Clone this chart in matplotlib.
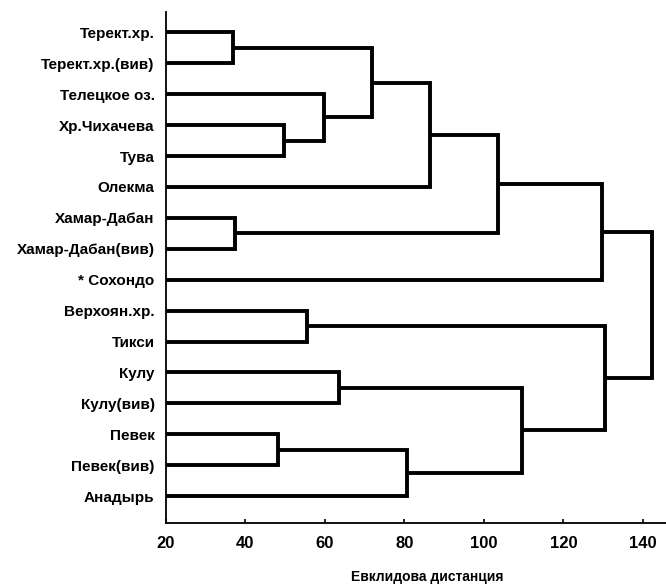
import matplotlib.pyplot as plt
import numpy as np

# листья дендрограммы (сверху вниз)
leaf_labels = ["Терект.хр.", "Терект.хр.(вив)", "Телецкое оз.", "Хр.Чихачева", "Тува",
               "Олекма", "Хамар-Дабан", "Хамар-Дабан(вив)", "* Сохондо",
               "Верхоян.хр.", "Тикси", "Кулу", "Кулу(вив)", "Певек", "Певек(вив)", "Анадырь"]

# объединения: (узел a, узел b, дистанция); новые узлы нумеруются с 16
merge_a = [0, 3, 2, 16, 19, 6, 20, 22, 9, 11, 13, 26, 25, 24, 23]
merge_b = [1, 4, 17, 18, 5, 7, 21, 8, 10, 12, 14, 15, 27, 28, 29]
merge_h = [36.8, 49.6, 59.8, 71.8, 86.4, 37.4, 103.5, 129.7,
           55.6, 63.5, 48.1, 80.7, 109.5, 130.4, 142.3]

xticks = [20, 40, 60, 80, 100, 120, 140]

plt.rcParams['font.family'] = ['Liberation Sans', 'DejaVu Sans']

fig = plt.figure(figsize=(6.66, 5.87), dpi=100)
ax = fig.add_axes([0.249, 0.109, 0.751, 0.8706])

n = len(leaf_labels)
pos_y = {i: float(i) for i in range(n)}
pos_x = {i: 20.0 for i in range(n)}

for k, (a, b, h) in enumerate(zip(merge_a, merge_b, merge_h)):
    node = n + k
    ya, yb = pos_y[a], pos_y[b]
    ax.plot([pos_x[a], h, h, pos_x[b]], [ya, ya, yb, yb],
            color="black", lw=2.8, solid_joinstyle="miter", solid_capstyle="butt")
    pos_y[node] = (ya + yb) / 2
    pos_x[node] = h

ax.set_xlim(20, 145.8)
ax.set_ylim(15.87, -0.66)
ax.set_yticks(range(n))
ax.set_yticklabels(leaf_labels, fontsize=11, fontweight="bold")
ax.set_xticks(xticks)
ax.set_xticklabels([str(t) for t in xticks], fontsize=12, fontweight="bold")
ax.tick_params(axis="y", length=0, pad=8)
ax.tick_params(axis="x", direction="in", length=3, width=1.2, pad=9)

for s in ["top", "right"]:
    ax.spines[s].set_visible(False)
for s in ["left", "bottom"]:
    ax.spines[s].set_linewidth(1.3)

ax.set_xlabel("Евклидова дистанция", fontsize=10, fontweight="bold")
ax.xaxis.label.set_va("center")
ax.xaxis.set_label_coords(0.522, -0.106)

fig.savefig("out.png", dpi=100)
